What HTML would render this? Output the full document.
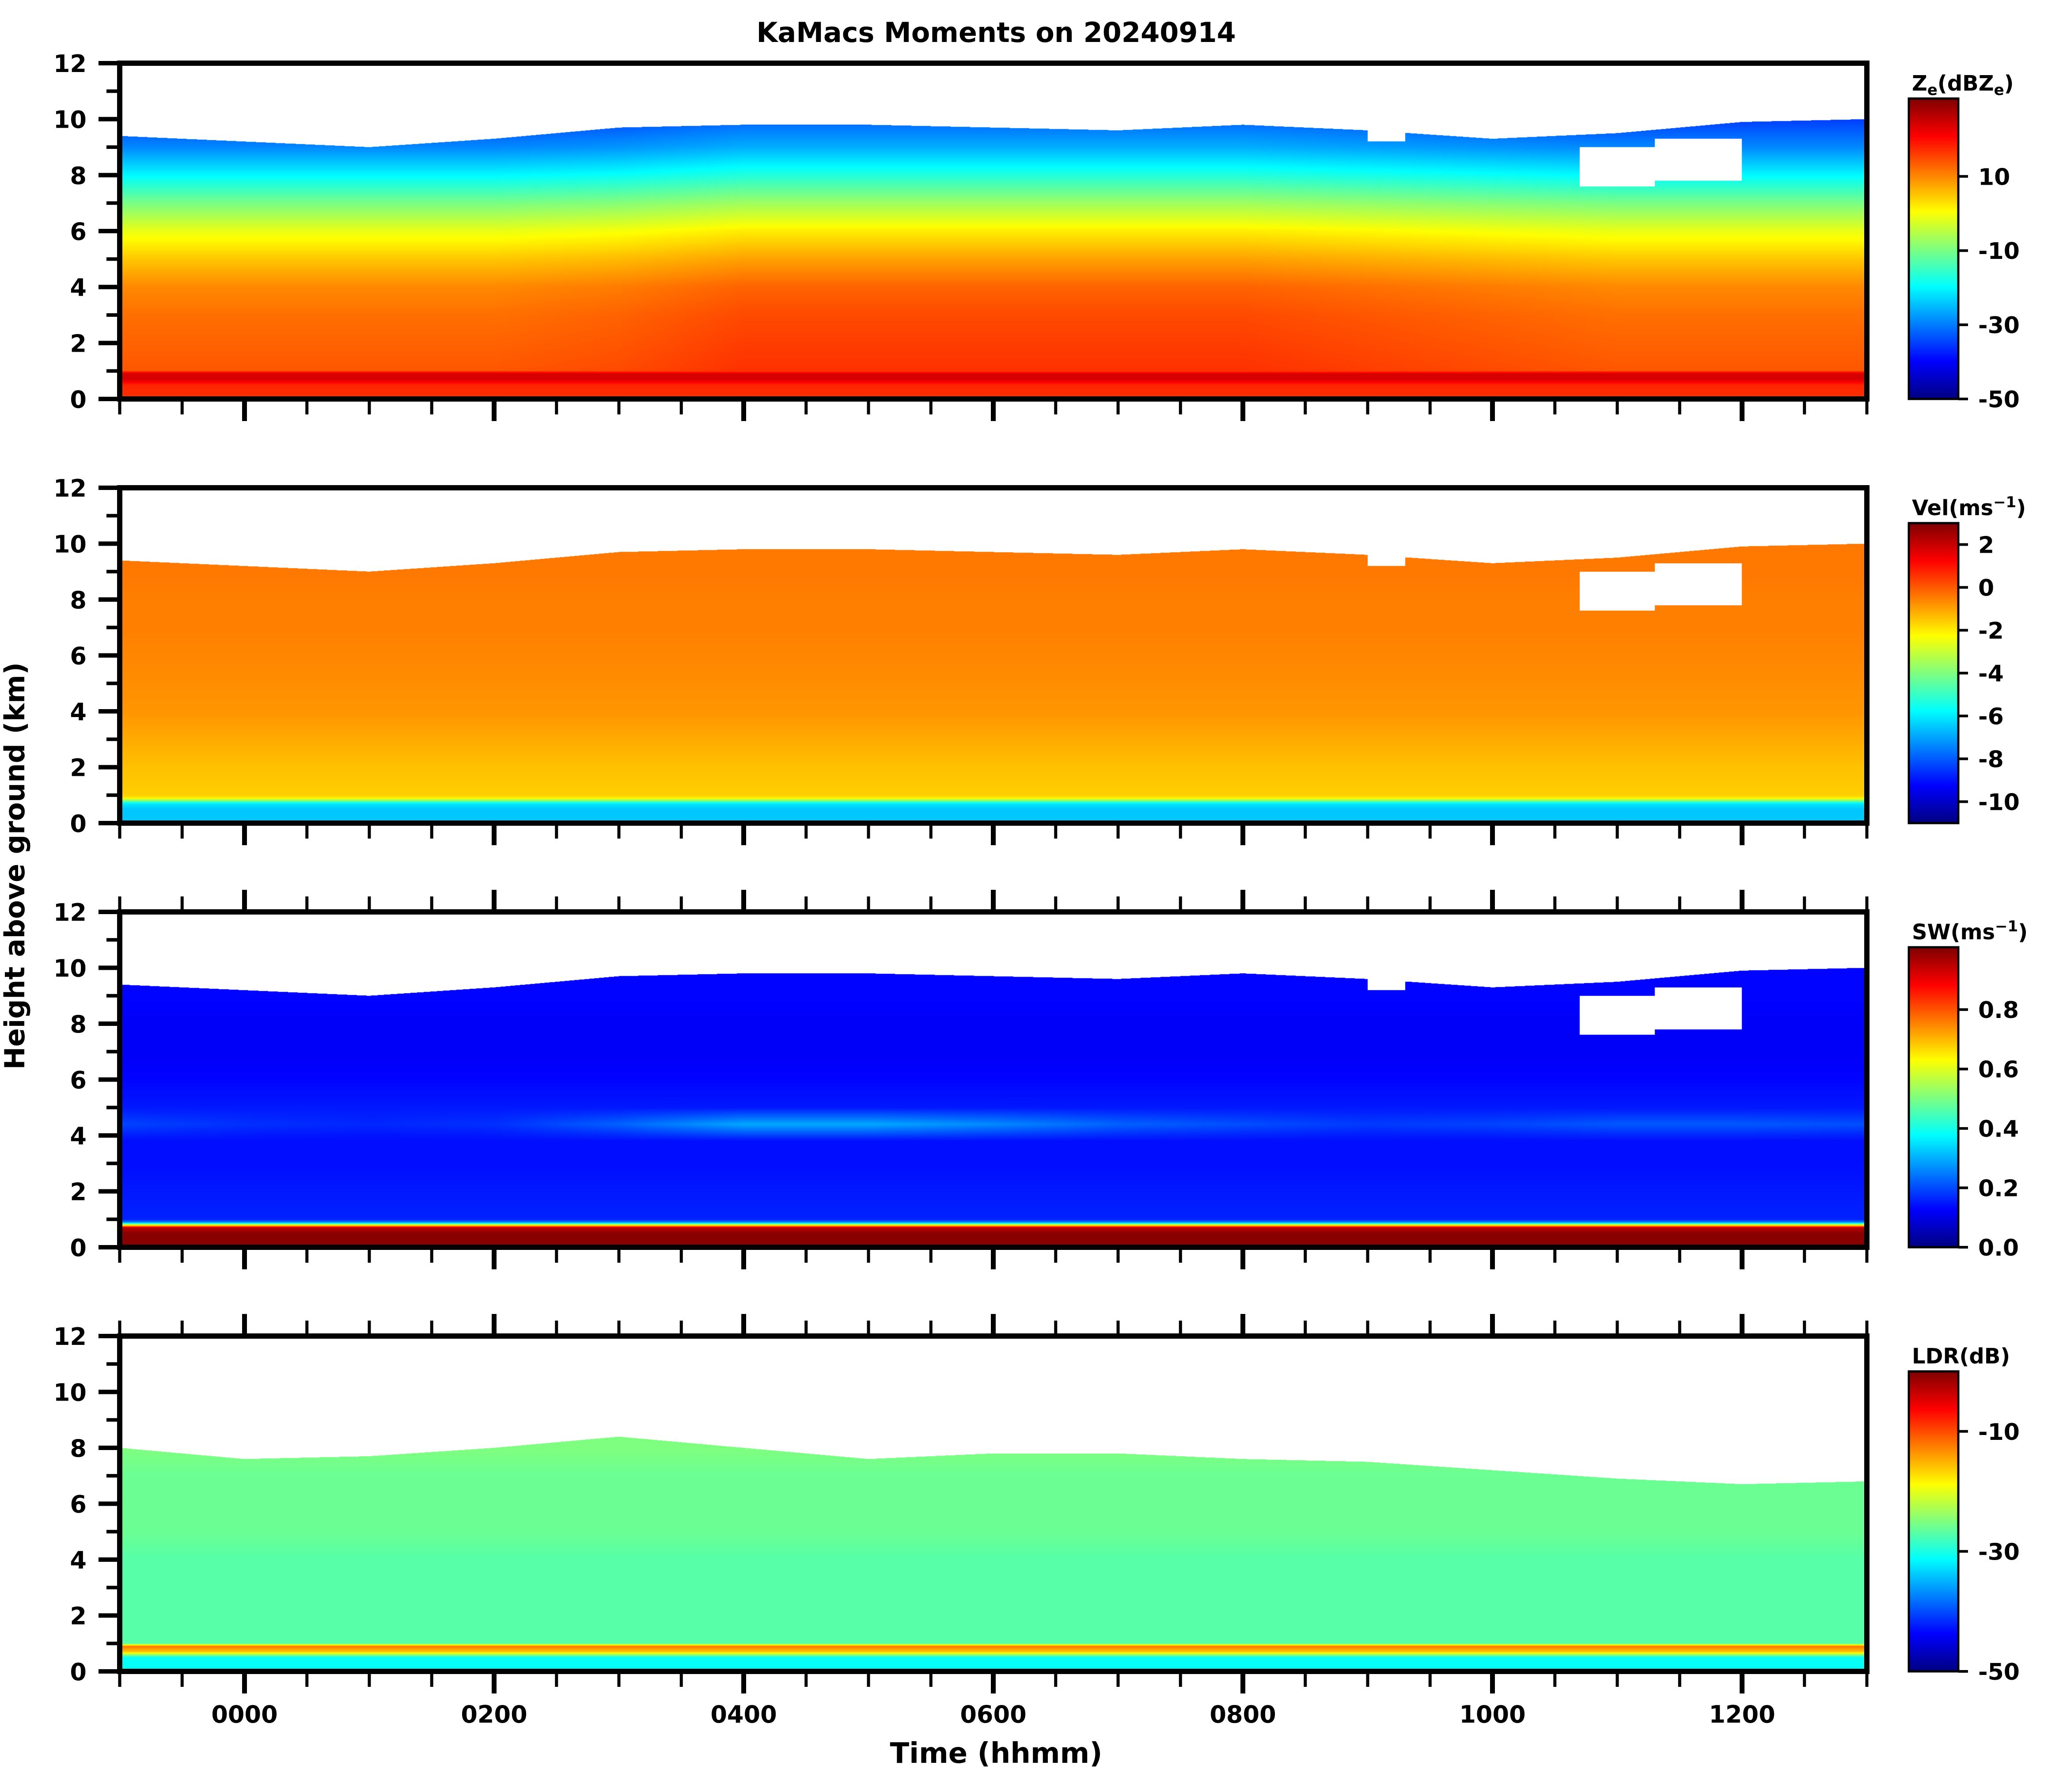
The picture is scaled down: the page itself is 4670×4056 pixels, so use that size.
<!DOCTYPE html>
<html><head><meta charset="utf-8">
<style>
html,body{margin:0;padding:0;background:#fff;}
#root{position:relative;width:4670px;height:4056px;overflow:hidden;font-family:"DejaVu Sans","Liberation Sans",sans-serif;font-weight:bold;}
canvas{position:absolute;}
svg{position:absolute;left:0;top:0;}
</style></head>
<body>
<div id="root">
<canvas id="c0"></canvas>
<canvas id="c1"></canvas>
<canvas id="c2"></canvas>
<canvas id="c3"></canvas>
<canvas id="cb0"></canvas>
<canvas id="cb1"></canvas>
<canvas id="cb2"></canvas>
<canvas id="cb3"></canvas>
<svg id="ov" width="4670" height="4056"></svg>
</div>
<script>
// ---- data ----
const hours = [-1,0,1,2,3,4,5,6,7,8,9,10,11,12,13];
const echoTop = [9.4,9.2,9.0,9.3,9.7,9.8,9.8,9.7,9.6,9.8,9.6,9.3,9.5,9.9,10.0];
const ldrTop = [8.0,7.6,7.7,8.0,8.4,8.0,7.6,7.8,7.8,7.6,7.5,7.2,6.9,6.7,6.8];
const gapStart = [9.0, 10.7, 11.3];
const gapEnd   = [9.3, 11.3, 12.0];
const gapBottom= [9.2, 7.6, 7.8];
const gapTop   = [9.9, 9.0, 9.3];
const profHeights = [0,0.5,0.7,0.9,1.0,2,3,4,5,6,7,8,9,10];
const zProfile   = [17,18,24,24,16,15,14,12,7,1,-8,-18,-27,-33];
const zHourOffset= [-2,-2,-2,-2,-1,1,1,1,1,1,0,-1,-2,-2,-2];
const velProfile = [-6.5,-6.5,-6,-2,-1.6,-1.4,-1.1,-0.8,-0.7,-0.6,-0.5,-0.5,-0.4,-0.4];
const swProfile  = [1.0,1.0,0.95,0.25,0.16,0.15,0.14,0.14,0.15,0.13,0.12,0.12,0.13,0.13];
const swBandHours= [-1,0,1,2,3,4,5,6,7,8,9,10,11,12,13];
const swBandBoost= [0.05,0.03,0.02,0.03,0.08,0.15,0.15,0.12,0.08,0.06,0.04,0.05,0.07,0.07,0.06];
const ldrProfile = [-31,-31,-16,-12,-27,-27,-27,-27,-26,-26,-26,-25,-25,-25];
const panelNames = ['reflectivity','velocity','spectrum-width','ldr'];
const vmin = [-50,-11,0,-50], vmax=[31,3,1.01,0];
const cbTicks = [[10,-10,-30,-50],[2,0,-2,-4,-6,-8,-10],[0.8,0.6,0.4,0.2,0.0],[-10,-30,-50]];
const cbTickLabels = [['10','-10','-30','-50'],['2','0','-2','-4','-6','-8','-10'],['0.8','0.6','0.4','0.2','0.0'],['-10','-30','-50']];
const yTicks=[0,2,4,6,8,10,12];
const xMajor=[0,2,4,6,8,10,12];
const xMajorLabels=['0000','0200','0400','0600','0800','1000','1200'];

// ---- layout ----
const AX_L=271, AX_R=4226;
const panTop=[143,1104,2064,3024], panBot=[903,1863,2823,3783];
const CB_L=4321, CB_R=4433, cbTop=[223,1184,2144,3104];
const T0=-1,T1=13;
function xs(t){return AX_L+(t-T0)/(T1-T0)*(AX_R-AX_L);}
function ys(p,h){return panBot[p]-h/12*(panBot[p]-panTop[p]);}
function interp(xa,ya,x){if(x<=xa[0])return ya[0];for(let i=1;i<xa.length;i++){if(x<=xa[i]){const f=(x-xa[i-1])/(xa[i]-xa[i-1]);return ya[i-1]+f*(ya[i]-ya[i-1]);}}return ya[ya.length-1];}
function jet(v){v=Math.max(0,Math.min(1,v));
 const r=Math.max(0,Math.min(1,1.5-Math.abs(4*v-3))),g=Math.max(0,Math.min(1,1.5-Math.abs(4*v-2))),b=Math.max(0,Math.min(1,1.5-Math.abs(4*v-1)));
 return [r*255|0,g*255|0,b*255|0];}
function valueAt(p,t,h){
 if(p===0)return interp(profHeights,zProfile,h)+(h>1?interp(hours,zHourOffset,t):0);
 if(p===1)return interp(profHeights,velProfile,h);
 if(p===2){let v=interp(profHeights,swProfile,h);const b=Math.max(0,1-Math.abs(h-4.4)/0.6);return v+b*interp(swBandHours,swBandBoost,t);}
 return interp(profHeights,ldrProfile,h);
}
for(let p=0;p<4;p++){
 const c=document.getElementById('c'+p);
 const x0=AX_L,y0=panTop[p],w=AX_R-AX_L,h=panBot[p]-panTop[p];
 c.style.left=x0+'px';c.style.top=y0+'px';c.width=w;c.height=h;
 const ctx=c.getContext('2d');const img=ctx.createImageData(w,h);const d=img.data;
 for(let x=0;x<w;x++){
  const t=T0+(x+0.5)/w*(T1-T0);
  const top=interp(hours,p===3?ldrTop:echoTop,t);
  for(let y=0;y<h;y++){
   const hh=(h-y-0.5)/h*12;
   let white=hh>top;
   if(!white&&p<3){for(let g=0;g<gapStart.length;g++){if(t>gapStart[g]&&t<gapEnd[g]&&hh>gapBottom[g]&&hh<gapTop[g])white=true;}}
   const i=(y*w+x)*4;
   if(white){d[i]=d[i+1]=d[i+2]=255;}
   else{const v=valueAt(p,t,hh);const cc=jet((v-vmin[p])/(vmax[p]-vmin[p]));d[i]=cc[0];d[i+1]=cc[1];d[i+2]=cc[2];}
   d[i+3]=255;
  }
 }
 ctx.putImageData(img,0,0);
 const cb=document.getElementById('cb'+p);
 const ch=panBot[p]-cbTop[p];
 cb.style.left=CB_L+'px';cb.style.top=cbTop[p]+'px';cb.width=CB_R-CB_L;cb.height=ch;
 const g=cb.getContext('2d');
 for(let y=0;y<ch;y++){const cc=jet(1-y/ch);g.fillStyle='rgb('+cc+')';g.fillRect(0,y,CB_R-CB_L,1);}
}
// ---- overlay ----
const NS='http://www.w3.org/2000/svg';const ov=document.getElementById('ov');
function mk(tag,attrs,parent){const e=document.createElementNS(NS,tag);for(const k in attrs)e.setAttribute(k,attrs[k]);(parent||ov).appendChild(e);return e;}
function txt(s,x,y,size,anchor,parent){const e=mk('text',{x:x,y:y,'font-size':size,'font-weight':'bold','text-anchor':anchor||'middle','font-family':'DejaVu Sans, Liberation Sans, sans-serif'},parent);e.textContent=s;return e;}
for(let p=0;p<4;p++){
 const grp=mk('g',{});
 
 
 const yt=panTop[p],yb=panBot[p];
 for(let v=0;v<=12;v++){const y=ys(p,v);const major=v%2===0;
  mk('line',{x1:AX_L-(major?48:30),x2:AX_L,y1:y,y2:y,stroke:'#000','stroke-width':major?10:8},grp);}
 yTicks.forEach(v=>{const lab=txt(String(v),196,ys(p,v)+20,54,'end',grp);
  
  });
 for(let k=0;k<=28;k++){const t=T0+k*0.5;const x=xs(t);const major=Math.abs(t/2-Math.round(t/2))<1e-6;
  const len=major?50:35;const sw=major?11:7;
  mk('line',{x1:x,x2:x,y1:yb,y2:yb+len,stroke:'#000','stroke-width':sw},grp);
  if(p>=2)mk('line',{x1:x,x2:x,y1:yt,y2:yt-len,stroke:'#000','stroke-width':sw},grp);}
 const fr=mk('rect',{x:AX_L,y:yt,width:AX_R-AX_L,height:yb-yt,fill:'none',stroke:'#000','stroke-width':12},grp);
 
 
 const ct=cbTop[p];
 mk('rect',{x:CB_L,y:ct,width:CB_R-CB_L,height:yb-ct,fill:'none',stroke:'#000','stroke-width':5},grp);
 cbTicks[p].forEach((v,i)=>{const y=yb-(v-vmin[p])/(vmax[p]-vmin[p])*(yb-ct);
  mk('line',{x1:CB_R,x2:CB_R+22,y1:y,y2:y,stroke:'#000','stroke-width':6},grp);
  const l=txt(cbTickLabels[p][i],4478,y+19,52,'start',grp);
  
  });
}
xMajor.forEach((t,i)=>{const l=txt(xMajorLabels[i],xs(t),3899,54,'middle');
 
 });
const ttl=txt('KaMacs Moments on 20240914',2255,95,62,'middle');

const xl=txt('Time (hhmm)',2255,3990,64,'middle');

const yl=txt('Height above ground (km)',0,0,62,'middle');
yl.setAttribute('transform','translate(55,1960) rotate(-90)');

function cbTitle(y,parts,name){const t=mk('text',{x:4328,y:y,'font-size':48,'font-weight':'bold','font-family':'DejaVu Sans, sans-serif'});
 
 parts.forEach(pt=>{const s=mk('tspan',{},t);s.textContent=pt[0];if(pt[1]==='sub'){s.setAttribute('font-size',34);s.setAttribute('dy',10);}else if(pt[1]==='sup'){s.setAttribute('font-size',34);s.setAttribute('dy',-18);}else if(pt[1]==='back'){s.setAttribute('dy',pt[2]);}});}
cbTitle(205,[['Z'],['e','sub'],['(dBZ','back',-10],['e','sub'],[')','back',-10]],'reflectivity-colorbar-title');
cbTitle(1166,[['Vel(ms'],['−1','sup'],[')','back',18]],'velocity-colorbar-title');
cbTitle(2126,[['SW(ms'],['−1','sup'],[')','back',18]],'spectrum-width-colorbar-title');
cbTitle(3086,[['LDR(dB)']],'ldr-colorbar-title');
</script>
</body></html>
